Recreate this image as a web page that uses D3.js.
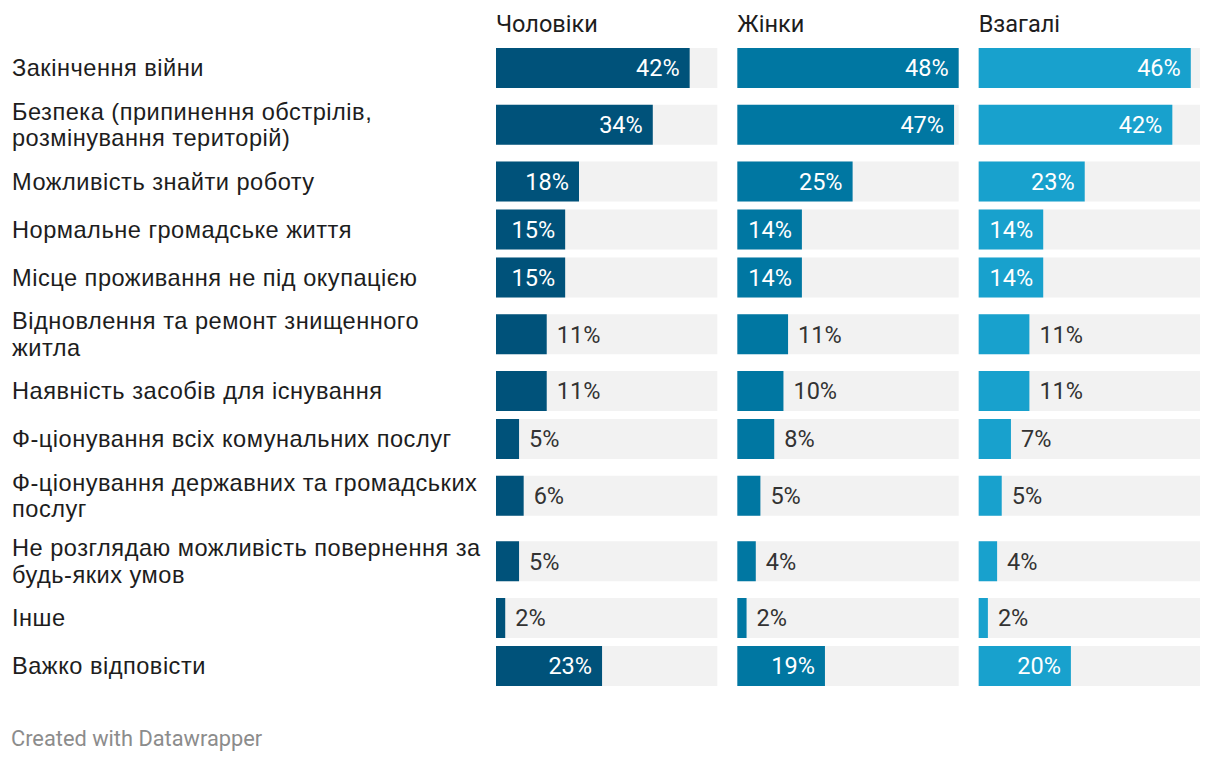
<!DOCTYPE html>
<html>
<head>
<meta charset="utf-8">
<script src="https://cdn.jsdelivr.net/npm/d3@7"></script>
<style>
  html, body { margin: 0; padding: 0; background: #fff; }
  svg { display: block; }
</style>
</head>
<body>
<svg id="chart" width="1220" height="764"></svg>
<script>
const categories = [
  "Закінчення війни",
  "Безпека (припинення обстрілів,\nрозмінування територій)",
  "Можливість знайти роботу",
  "Нормальне громадське життя",
  "Місце проживання не під окупацією",
  "Відновлення та ремонт знищенного\nжитла",
  "Наявність засобів для існування",
  "Ф-ціонування всіх комунальних послуг",
  "Ф-ціонування державних та громадських\nпослуг",
  "Не розглядаю можливість повернення за\nбудь-яких умов",
  "Інше",
  "Важко відповісти"
];
const seriesNames = ["Чоловіки", "Жінки", "Взагалі"];
const men   = [42, 34, 18, 15, 15, 11, 11, 5, 6, 5, 2, 23];
const women = [48, 47, 25, 14, 14, 11, 10, 8, 5, 4, 2, 19];
const total = [46, 42, 23, 14, 14, 11, 11, 7, 5, 4, 2, 20];
const seriesValues = [men, women, total];
const colors = ["#00527a", "#0077a2", "#18a1cd"];

const svg = d3.select("#chart");
const panelLeft = 496, panelRight = 1200, panelGap = 20;
const panelW = (panelRight - panelLeft - 2 * panelGap) / 3;
const barH = 40;
const topY = 44;
const singleSlot = 48, doubleSlot = 65.5;

// row layout
const lines = categories.map(c => c.split("\n"));
const slots = [];
let yAcc = topY;
lines.forEach(l => {
  const h = l.length > 1 ? doubleSlot : singleSlot;
  slots.push({ top: yAcc, h: h, center: yAcc + h / 2 });
  yAcc += h;
});

const x = d3.scaleLinear().domain([0, 48]).range([0, panelW]);
const panelX = d3.scaleBand().domain(seriesNames).range([panelLeft, panelRight + panelGap]).paddingInner(0).paddingOuter(0);

// row labels
const labelG = svg.append("g");
categories.forEach((c, i) => {
  const ls = lines[i];
  const lh = 26.5;
  const t = labelG.append("text")
    .attr("x", 12)
    .attr("font-family", "'Liberation Sans', Arial, Helvetica, sans-serif")
    .attr("font-size", 23.6)
    .attr("letter-spacing", 0.5)
    .attr("fill", "#1d1d1d");
  ls.forEach((line, k) => {
    t.append("tspan")
      .attr("x", 12)
      .attr("y", slots[i].center + (k - (ls.length - 1) / 2) * lh)
      .attr("dy", "0.35em")
      .text(line);
  });
});

// panels
seriesNames.forEach((s, si) => {
  const px = panelX(s);
  const g = svg.append("g").attr("transform", `translate(${px},0)`);
  g.append("text")
    .attr("x", 0).attr("y", 32)
    .attr("font-family", "Roboto, sans-serif")
    .attr("font-size", 23.5)
    .attr("fill", "#1d1d1d")
    .text(s);
  const vals = seriesValues[si];
  vals.forEach((v, i) => {
    const yTop = slots[i].center - barH / 2;
    g.append("rect")
      .attr("x", 0).attr("y", yTop)
      .attr("width", panelW).attr("height", barH)
      .attr("fill", "#f2f2f2");
    const w = x(v);
    g.append("rect")
      .attr("x", 0).attr("y", yTop)
      .attr("width", w).attr("height", barH)
      .attr("fill", colors[si]);
    const lbl = g.append("text")
      .attr("y", slots[i].center)
      .attr("dy", "0.36em")
      .attr("font-family", "Roboto, sans-serif")
      .attr("font-size", 23.5)
      .text(v + "%");
    const tw = lbl.node().getComputedTextLength();
    if (w > tw + 16) {
      lbl.attr("x", w - 10).attr("text-anchor", "end").attr("fill", "#ffffff");
    } else {
      lbl.attr("x", w + 10).attr("text-anchor", "start").attr("fill", "#333333");
    }
  });
});

svg.append("text")
  .attr("x", 11).attr("y", 746)
  .attr("font-family", "Roboto, sans-serif")
  .attr("font-size", 21.8)
  .attr("fill", "#8c8c8c")
  .text("Created with Datawrapper");
</script>
</body>
</html>
